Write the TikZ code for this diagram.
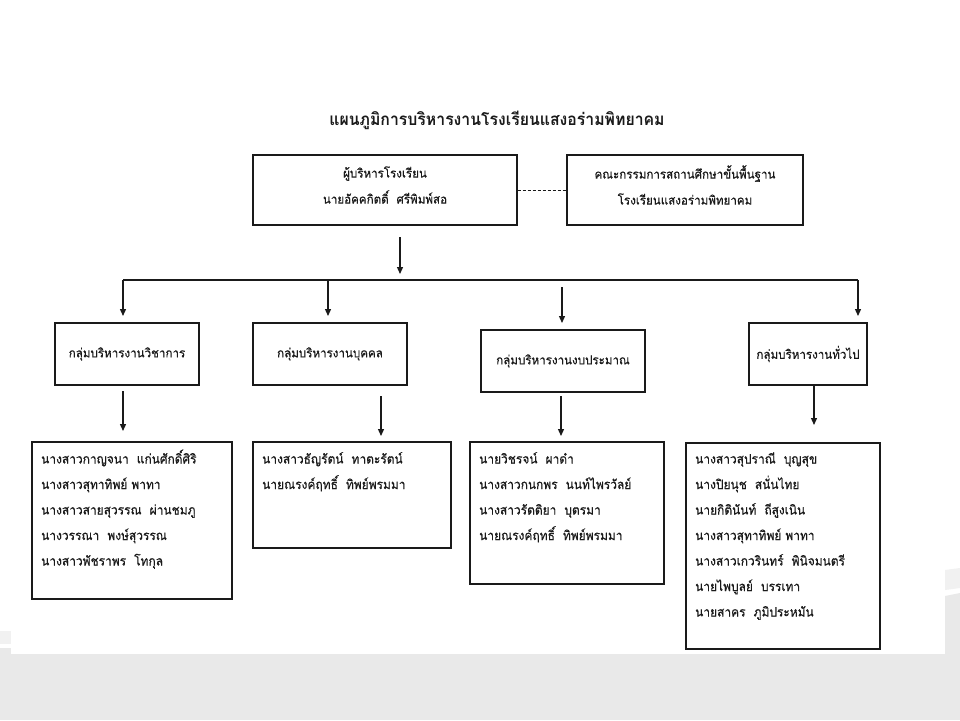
\documentclass[tikz,border=0pt]{standalone}
\usepackage{fontspec}
\newfontfamily\thai[Script=Thai, FakeStretch=0.92, FakeBold=0.4]{Loma}
\newfontfamily\thaititle[Script=Thai, FakeStretch=0.93]{Loma}
\usetikzlibrary{arrows.meta}
\definecolor{bandgray}{HTML}{E9E9E9}
\definecolor{lightband}{HTML}{F1F1F1}
\definecolor{ink}{HTML}{1A1A1A}
\tikzset{
  box/.style={draw=ink, line width=1.2pt, rectangle, inner sep=0pt},
  arr/.style={draw=ink, line width=1.3pt, -{Triangle[width=6pt,length=7pt]}},
  plain/.style={draw=ink, line width=1.3pt},
  dashline/.style={draw=ink, line width=0.8pt, dash pattern=on 3pt off 2pt},
  txt/.style={font=\thai\fontsize{12.6}{26}\selectfont, text=ink, inner sep=0pt},
  nm/.style={font=\thai\fontsize{13}{26}\selectfont, text=ink, inner sep=0pt, anchor=west, text height=8pt, text depth=3pt}
}
\begin{document}
\begin{tikzpicture}[x=1pt,y=-1pt]
\useasboundingbox (0,0) rectangle (960,720);
% background
\fill[white] (0,0) rectangle (960,720);
\fill[bandgray] (0,654) rectangle (960,720);
\fill[bandgray] (0,648) rectangle (11,654);
\fill[lightband] (0,631) rectangle (11,644);
\fill[bandgray] (945,596) -- (960,593) -- (960,654) -- (945,654) -- cycle;
\fill[lightband] (945,570) -- (960,568) -- (960,588) -- (945,590) -- cycle;

% title
\node[inner sep=0pt, text=ink, font=\thaititle\bfseries\fontsize{17}{20}\selectfont] (title) at (497,120) {แผนภูมิการบริหารงานโรงเรียนแสงอร่ามพิทยาคม};

% top boxes
\node[box, minimum width=264pt, minimum height=70pt] (exec) at (385,190) {};
\node[txt, align=center] (exect) at (385,185) {ผู้บริหารโรงเรียน\\นายอัคคกิตติ์~ ศรีพิมพ์สอ};
\node[box, minimum width=236pt, minimum height=70pt] (board) at (685,190) {};
\node[txt, align=center] (boardt) at (685,185) {คณะกรรมการสถานศึกษาขั้นพื้นฐาน\\โรงเรียนแสงอร่ามพิทยาคม};
\draw[dashline] (exec.east) -- (board.west);

% arrow to bus
\coordinate (a0s) at (400,237);
\coordinate (a0e) at (400,274);
\draw[arr] (a0s) -- (a0e);

% bus
\coordinate (busL) at (123,280);
\coordinate (busM) at (328,280);
\coordinate (busR) at (858,280);
\coordinate (t1) at (123,316);
\coordinate (t2) at (328,316);
\coordinate (t3s) at (562,287);
\coordinate (t3) at (562,323);
\coordinate (t4) at (858,316);
\draw[plain] (busL) -- (busR);
\draw[arr] (busL) -- (t1);
\draw[arr] (busM) -- (t2);
\draw[arr] (t3s) -- (t3);
\draw[arr] (busR) -- (t4);

% group boxes
\node[box, txt, draw=ink, line width=1.2pt, minimum width=144pt, minimum height=62pt] (g1) at (127,354) {กลุ่มบริหารงานวิชาการ};
\node[box, txt, draw=ink, line width=1.2pt, minimum width=154pt, minimum height=62pt] (g2) at (330,354) {กลุ่มบริหารงานบุคคล};
\node[box, txt, draw=ink, line width=2pt, minimum width=164pt, minimum height=62pt] (g3) at (563,361) {กลุ่มบริหารงานงบประมาณ};
\node[box, txt, draw=ink, line width=1.2pt, minimum width=118pt, minimum height=62pt] (g4) at (808,354) {กลุ่มบริหารงานทั่วไป};

% lower arrows
\coordinate (d1s) at (123,391); \coordinate (d1e) at (123,431);
\coordinate (d2s) at (381,396); \coordinate (d2e) at (381,436);
\coordinate (d3s) at (561,396); \coordinate (d3e) at (561,436);
\coordinate (d4e) at (814,425);
\draw[arr] (d1s) -- (d1e);
\draw[arr] (d2s) -- (d2e);
\draw[arr] (d3s) -- (d3e);
\draw[arr] (g4.south -| d4e) -- (d4e);

% list boxes
\node[box, minimum width=200pt, minimum height=157pt] (la) at (132,520.5) {};
\node[box, minimum width=198pt, minimum height=106pt] (lb) at (352,495) {};
\node[box, minimum width=194pt, minimum height=142pt] (lc) at (567,513) {};
\node[box, minimum width=194pt, minimum height=206pt] (ld) at (783,546) {};

\foreach \t [count=\i] in {นางสาวกาญจนา~ แก่นศักดิ์ศิริ, นางสาวสุทาทิพย์ พาทา, นางสาวสายสุวรรณ~ ผ่านชมภู, นางวรรณา~ พงษ์สุวรรณ, นางสาวพัชราพร~ โทกุล}
  \node[nm] (na\i) at (41,{461+25.5*(\i-1)}) {\t};
\foreach \t [count=\i] in {นางสาวธัญรัตน์~ ทาตะรัตน์, นายณรงค์ฤทธิ์~ ทิพย์พรมมา}
  \node[nm] (nb\i) at (262,{461+25.5*(\i-1)}) {\t};
\foreach \t [count=\i] in {นายวิชรจน์~ ผาดำ, นางสาวกนกพร~ นนท์ไพรวัลย์, นางสาวรัตติยา~ บุตรมา, นายณรงค์ฤทธิ์~ ทิพย์พรมมา}
  \node[nm] (nc\i) at (479,{461+25.5*(\i-1)}) {\t};
\foreach \t [count=\i] in {นางสาวสุปราณี~ บุญสุข, นางปิยนุช~ สนั่นไทย, นายกิตินันท์~ ถีสูงเนิน, นางสาวสุทาทิพย์ พาทา, นางสาวเกวรินทร์~ พินิจมนตรี, นายไพบูลย์~ บรรเทา, นายสาคร~ ภูมิประหมัน}
  \node[nm] (nd\i) at (695,{461+25.5*(\i-1)}) {\t};
\end{tikzpicture}
\end{document}
